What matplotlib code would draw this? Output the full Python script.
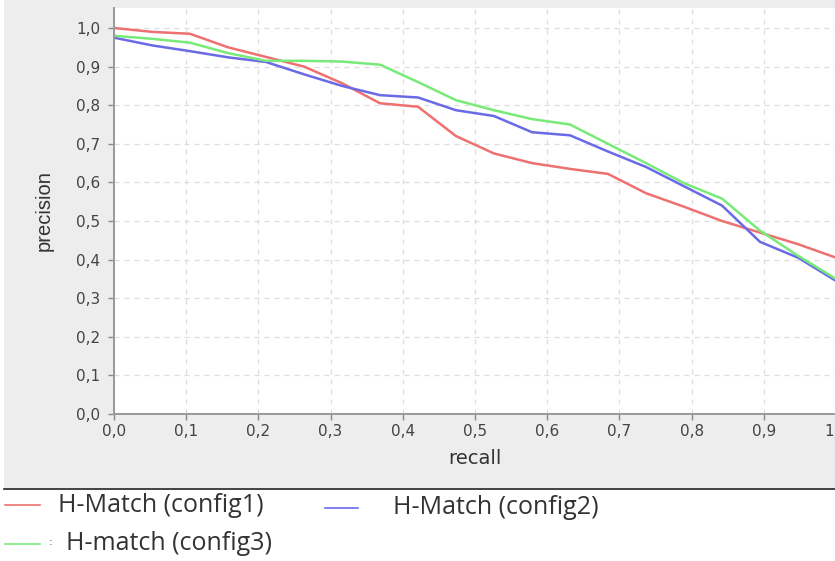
import matplotlib
matplotlib.use('Agg')
import matplotlib.pyplot as plt
from matplotlib.lines import Line2D
from matplotlib.patches import Rectangle
import matplotlib.ticker as mticker

# recall points (20 steps of 1/19)
recall = [i / 19 for i in range(20)]

prec_config1 = [1.0, 0.99, 0.985, 0.95, 0.925, 0.90, 0.857, 0.805, 0.796, 0.72,
                0.675, 0.65, 0.635, 0.622, 0.572, 0.537, 0.50, 0.47, 0.44, 0.405]
prec_config2 = [0.975, 0.955, 0.94, 0.924, 0.912, 0.88, 0.85, 0.826, 0.82, 0.787,
                0.772, 0.73, 0.722, 0.68, 0.64, 0.59, 0.54, 0.446, 0.405, 0.345]
prec_config3 = [0.98, 0.972, 0.962, 0.935, 0.915, 0.915, 0.913, 0.905, 0.86, 0.813,
                0.787, 0.764, 0.75, 0.70, 0.65, 0.598, 0.558, 0.475, 0.41, 0.35]

labels = ['H-Match (config1)', 'H-Match (config2)', 'H-match (config3)']
colors = ['#ee7070', '#6a6ae6', '#78ea78']

W, H = 835, 561
fig = plt.figure(figsize=(W / 100, H / 100), dpi=100)
fig.patch.set_facecolor('white')

# grey chart panel + separator line
fig.patches.append(Rectangle((4 / W, 1 - 488 / H), 1 - 4 / W, 488 / H,
                             transform=fig.transFigure, facecolor='#ededed',
                             edgecolor='none', zorder=-10))
fig.lines.append(Line2D([4 / W, 1], [1 - 489 / H] * 2, transform=fig.transFigure,
                        color='#222222', linewidth=1.2))

ax = fig.add_axes([114 / W, 1 - 414 / H, 722 / W, 406 / H])
ax.set_facecolor('white')

ax.plot(recall, prec_config1, color=colors[0], lw=1.8)
ax.plot(recall, prec_config2, color=colors[1], lw=1.8)
ax.plot(recall, prec_config3, color=colors[2], lw=1.8)

ax.set_xlim(0, 1.0)
ax.set_ylim(0, 406 / 386)
ax.set_xticks([i / 10 for i in range(11)])
ax.set_yticks([i / 10 for i in range(11)])
fmt = mticker.FuncFormatter(lambda v, p: f'{v:.1f}'.replace('.', ','))
ax.xaxis.set_major_formatter(fmt)
ax.yaxis.set_major_formatter(fmt)
ax.tick_params(colors='#888888', labelcolor='#444444', labelsize=11, length=4, width=1)
ax.tick_params(axis='y', pad=6)

ax.grid(True, linestyle=(0, (4, 4)), color='#dddddd', linewidth=0.9)
ax.set_axisbelow(True)
for s in ['top', 'right']:
    ax.spines[s].set_visible(False)
for s in ['left', 'bottom']:
    ax.spines[s].set_color('#999999')
    ax.spines[s].set_linewidth(1.4)

ax.set_xlabel('recall', fontsize=14, color='#333333', labelpad=7)
ax.set_ylabel('precision', fontsize=14.5, color='#333333', labelpad=16,
              family=['Liberation Sans', 'DejaVu Sans'])

# legend below the chart
def legend_item(x0, x1, y, xt, text, color):
    fig.lines.append(Line2D([x0 / W, x1 / W], [1 - y / H] * 2, transform=fig.transFigure,
                            color=color, linewidth=1.2))
    fig.text(xt / W, 1 - y / H, text, fontsize=18, color='#333333', va='center',
             ha='left', family=['Open Sans', 'DejaVu Sans'])

legend_item(5, 40, 505, 58, labels[0], colors[0])
legend_item(325, 358, 508, 393, labels[1], colors[1])
legend_item(5, 40, 544, 66, labels[2], colors[2])
fig.text(49 / W, 1 - 542 / H, ':', fontsize=8, color='#555555', va='center')

fig.savefig('out.png', dpi=100)
